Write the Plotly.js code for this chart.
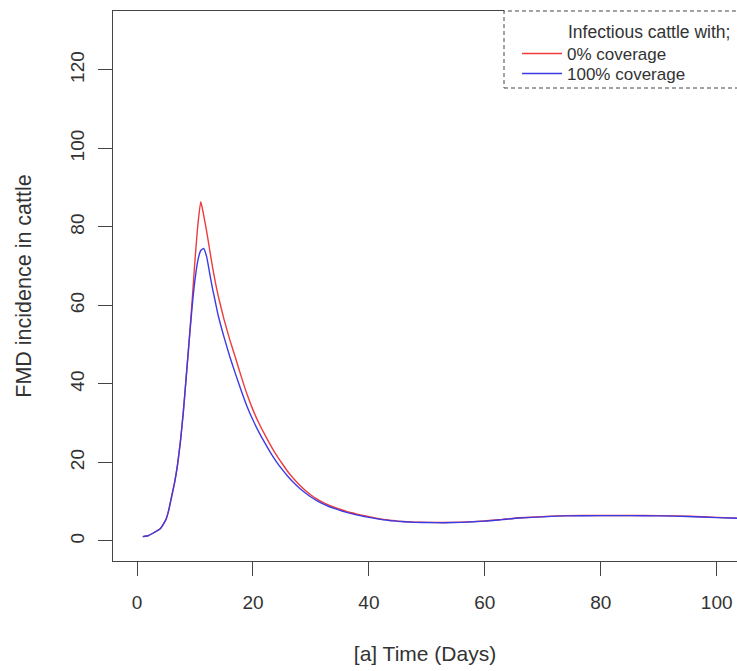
<!DOCTYPE html>
<html>
<head>
<meta charset="utf-8">
<script src="https://cdn.plot.ly/plotly-3.0.1.min.js"></script>
<style>html,body{margin:0;padding:0;background:#fff;}#chart{width:737px;height:671px;}</style>
</head>
<body>
<div id="chart"></div>
<script>
// Time (days)
var days = [1,2,3,4,5,5.5,6,6.5,7,7.5,8,8.5,9,9.5,10,10.5,11,11.5,12,12.5,13,13.5,14,15,16,17,18,19,20,21,22,23,24,25,26,27,28,29,30,31,32,33,34,35,36,37,38,39,40,41,42,43,44,45,46,48,50,53,56,60,63,66,70,74,80,85,90,95,100,104];
// Infectious cattle, 0% coverage
var cov0 = [1.1,1.4,2.2,3.1,5.5,8,11.5,15,19.5,25.5,33,42,51,61,71.5,80.5,86.4,83,79,74.5,70,66,62.5,56.5,51.3,46.6,41.8,37.3,33.4,30.1,27.2,24.5,22,19.8,17.7,15.9,14.3,12.9,11.7,10.7,9.9,9.2,8.6,8.1,7.6,7.2,6.85,6.5,6.2,5.9,5.6,5.4,5.2,5.05,4.95,4.8,4.75,4.7,4.8,5.1,5.5,5.9,6.2,6.45,6.5,6.5,6.45,6.3,6.0,5.8];
// Infectious cattle, 100% coverage
var cov100 = [1.1,1.4,2.2,3.1,5.5,8,11.5,15,19.5,25.5,33,42,51,59.5,66.5,71.5,74,74.5,72.5,68.5,64.5,61,57.5,52,47,42.5,38.2,34.2,30.8,27.8,25.1,22.6,20.3,18.3,16.5,14.9,13.5,12.3,11.2,10.3,9.5,8.85,8.3,7.8,7.35,6.95,6.6,6.3,6.0,5.75,5.5,5.3,5.15,5.0,4.9,4.75,4.7,4.65,4.75,5.05,5.45,5.85,6.15,6.4,6.45,6.45,6.4,6.25,5.95,5.75];
var xTicks = [0,20,40,60,80,100];
var yTicks = [0,20,40,60,80,100,120];
var seriesNames = ["0% coverage","100% coverage"];
var legendHeading = "Infectious cattle with;";
var xTitle = "[a] Time (Days)";
var yTitle = "FMD incidence in cattle";

var FONT = "Liberation Sans, Arial, Helvetica, sans-serif";
var AX = "#444444";
var TXT = "#333333";

var traces = [
  {x: days, y: cov0, type: "scatter", mode: "lines", name: seriesNames[0], legend: "legend",
   line: {color: "#ee3b3b", width: 1.4, shape: "spline", smoothing: 0.5}},
  {x: days, y: cov100, type: "scatter", mode: "lines", name: seriesNames[1], legend: "legend2",
   line: {color: "#3b3be6", width: 1.4, shape: "spline", smoothing: 0.5}}
];

function legendAt(topPx) {
  return {x: (517-113)/624, xanchor: "left", y: (561-topPx)/550, yanchor: "top",
          bgcolor: "rgba(0,0,0,0)", borderwidth: 0,
          font: {family: FONT, size: 17, color: TXT}, itemwidth: 40};
}

var layout = {
  width: 737, height: 671,
  margin: {l: 113, r: 0, t: 11, b: 110, pad: 0},
  paper_bgcolor: "#ffffff", plot_bgcolor: "#ffffff",
  font: {family: FONT, color: TXT, size: 19},
  showlegend: true,
  legend: legendAt(36),
  legend2: legendAt(56),
  xaxis: {range: [-4.14, 103.5], tickvals: xTicks, ticktext: xTicks.map(String),
          ticks: "outside", ticklen: 14, tickwidth: 1, tickcolor: AX,
          showline: true, linecolor: AX, linewidth: 1.2, mirror: true,
          showgrid: false, zeroline: false,
          tickfont: {family: FONT, size: 19, color: TXT},
          ticklabelstandoff: 10,
          title: {text: xTitle, font: {family: FONT, size: 21, color: TXT}, standoff: 34}},
  yaxis: {range: [-5.1, 135.0], tickvals: yTicks, ticktext: yTicks.map(String),
          ticks: "outside", ticklen: 14, tickwidth: 1, tickcolor: AX,
          showline: true, linecolor: AX, linewidth: 1.2, mirror: false,
          showgrid: false, zeroline: false, tickangle: -90,
          tickfont: {family: FONT, size: 19, color: TXT},
          ticklabelstandoff: 6,
          title: {text: yTitle, font: {family: FONT, size: 21.5, color: TXT}, standoff: 29}},
  shapes: [
    {type: "rect", xref: "paper", yref: "paper", layer: "above",
     x0: (504-113)/624, x1: 1.02, y0: (561-88)/550, y1: (561-9)/550,
     fillcolor: "#ffffff", line: {width: 0}},
    {type: "rect", xref: "paper", yref: "paper", layer: "above",
     x0: (504-113)/624, x1: 1.02, y0: (561-88)/550, y1: (561-11)/550,
     fillcolor: "rgba(0,0,0,0)", line: {color: AX, width: 1, dash: "4px,3px"}}
  ],
  annotations: [
    {text: legendHeading, xref: "paper", yref: "paper",
     x: (566-113)/624, y: (561-32)/550, xanchor: "left", yanchor: "middle",
     showarrow: false, font: {family: FONT, size: 17.5, color: TXT}}
  ]
};

Plotly.newPlot("chart", traces, layout, {displayModeBar: false, staticPlot: true});
</script>
</body>
</html>
